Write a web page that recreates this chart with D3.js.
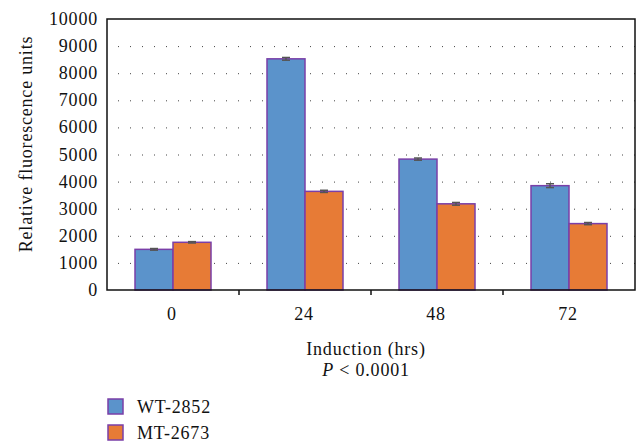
<!DOCTYPE html>
<html>
<head>
  <meta charset="UTF-8">
  <script src="https://d3js.org/d3.v7.min.js"></script>
  <style>
    body { margin: 0; background: #fff; }
    text { font-family: "Liberation Serif", "DejaVu Serif", serif; fill: #111; letter-spacing: 0.8px; }
  </style>
</head>
<body>
  <svg width="638" height="444"></svg>
  <script>
    const categories = ["0", "24", "48", "72"];
    const seriesNames = ["WT-2852", "MT-2673"];
    const wtValues = [1500, 8530, 4830, 3850];
    const mtValues = [1760, 3640, 3180, 2450];
    const wtErrors = [30, 50, 40, 70];
    const mtErrors = [25, 40, 50, 40];
    const yTicks = [0, 1000, 2000, 3000, 4000, 5000, 6000, 7000, 8000, 9000, 10000];
    const colors = ["#5b93cb", "#e77b36"];

    const svg = d3.select("svg");
    const plotL = 107, plotR = 635, plotT = 19, plotB = 290;
    const fs = 18;

    const x = d3.scaleBand().domain(categories).range([plotL, plotR]);
    const xSub = d3.scaleBand().domain(seriesNames).range([0, 76]);
    const y = d3.scaleLinear().domain([0, 10000]).range([plotB, plotT]);

    // dotted gridlines
    svg.append("g")
      .selectAll("line")
      .data(yTicks.slice(1, -1))
      .join("line")
      .attr("x1", plotL + 11).attr("x2", plotR)
      .attr("y1", d => y(d) + 0.5).attr("y2", d => y(d) + 0.5)
      .attr("stroke", "#444")
      .attr("stroke-width", 1)
      .attr("stroke-dasharray", "1,11");

    const data = categories.map((c, i) => ({
      cat: c,
      bars: [
        { name: seriesNames[0], v: wtValues[i], e: wtErrors[i], color: colors[0] },
        { name: seriesNames[1], v: mtValues[i], e: mtErrors[i], color: colors[1] }
      ]
    }));

    const groups = svg.append("g")
      .selectAll("g")
      .data(data)
      .join("g")
      .attr("transform", d => `translate(${x(d.cat) + x.bandwidth() / 2 - 38},0)`);

    groups.selectAll("rect")
      .data(d => d.bars)
      .join("rect")
      .attr("x", d => xSub(d.name))
      .attr("y", d => y(d.v))
      .attr("width", xSub.bandwidth())
      .attr("height", d => plotB - y(d.v))
      .attr("fill", d => d.color)
      .attr("stroke", "#7a3fa8")
      .attr("stroke-width", 1.5);

    // error bars
    const err = groups.selectAll("g.err")
      .data(d => d.bars)
      .join("g")
      .attr("class", "err")
      .attr("stroke", "#555")
      .attr("stroke-width", 1.5);
    err.append("line")
      .attr("x1", d => xSub(d.name) + xSub.bandwidth() / 2)
      .attr("x2", d => xSub(d.name) + xSub.bandwidth() / 2)
      .attr("y1", d => y(d.v + d.e)).attr("y2", d => y(d.v - d.e));
    err.append("line")
      .attr("x1", d => xSub(d.name) + xSub.bandwidth() / 2 - 4)
      .attr("x2", d => xSub(d.name) + xSub.bandwidth() / 2 + 4)
      .attr("y1", d => y(d.v + d.e)).attr("y2", d => y(d.v + d.e));
    err.append("line")
      .attr("x1", d => xSub(d.name) + xSub.bandwidth() / 2 - 4)
      .attr("x2", d => xSub(d.name) + xSub.bandwidth() / 2 + 4)
      .attr("y1", d => y(d.v - d.e)).attr("y2", d => y(d.v - d.e));

    // frame
    svg.append("rect")
      .attr("x", plotL).attr("y", plotT)
      .attr("width", plotR - plotL).attr("height", plotB - plotT)
      .attr("fill", "none")
      .attr("stroke", "#111")
      .attr("stroke-width", 1.5);

    // y tick labels
    svg.append("g")
      .selectAll("text")
      .data(yTicks)
      .join("text")
      .attr("x", 98)
      .attr("y", d => y(d) + 6)
      .attr("text-anchor", "end")
      .attr("font-size", fs)
      .text(d => d);

    // x category ticks at band boundaries
    svg.append("g")
      .selectAll("line")
      .data(categories.slice(1))
      .join("line")
      .attr("x1", d => x(d)).attr("x2", d => x(d))
      .attr("y1", plotB).attr("y2", plotB + 5)
      .attr("stroke", "#111")
      .attr("stroke-width", 1.5);

    svg.append("g")
      .selectAll("text")
      .data(categories)
      .join("text")
      .attr("x", d => x(d) + x.bandwidth() / 2 - 1)
      .attr("y", 320)
      .attr("text-anchor", "middle")
      .attr("font-size", fs)
      .text(d => d);

    svg.append("text")
      .attr("transform", "translate(32,144) rotate(-90)")
      .attr("text-anchor", "middle")
      .attr("font-size", fs)
      .text("Relative fluorescence units");

    svg.append("text")
      .attr("x", 366).attr("y", 355)
      .attr("text-anchor", "middle")
      .attr("font-size", fs)
      .text("Induction (hrs)");

    const p = svg.append("text")
      .attr("x", 366).attr("y", 376)
      .attr("text-anchor", "middle")
      .attr("font-size", fs);
    p.append("tspan").attr("font-style", "italic").text("P");
    p.append("tspan").text(" < 0.0001");

    // legend
    const legend = svg.append("g")
      .selectAll("g")
      .data(seriesNames)
      .join("g")
      .attr("transform", (d, i) => `translate(108,${399 + i * 26})`);
    legend.append("rect")
      .attr("width", 15).attr("height", 15)
      .attr("fill", (d, i) => colors[i])
      .attr("stroke", "#7a3fa8")
      .attr("stroke-width", 1.5);
    legend.append("text")
      .attr("x", 29).attr("y", 14)
      .attr("font-size", fs)
      .text(d => d);
  </script>
</body>
</html>
